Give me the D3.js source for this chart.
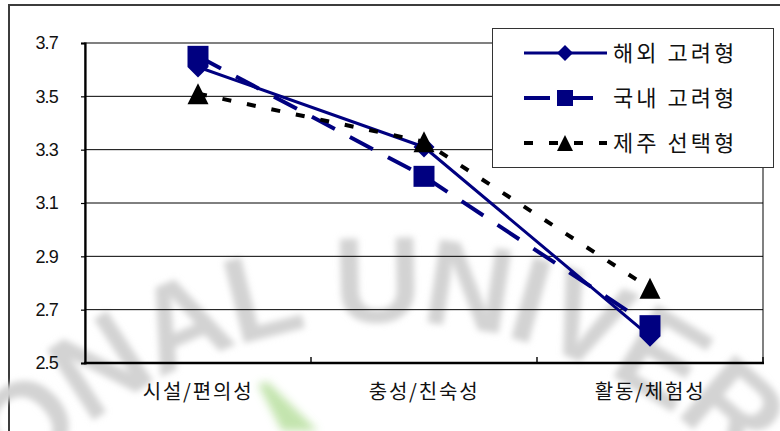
<!DOCTYPE html>
<html>
<head>
<meta charset="utf-8">
<script src="https://cdn.jsdelivr.net/npm/d3@7"></script>
<style>
  html, body { margin: 0; padding: 0; background: #fff; }
  svg { display: block; }
</style>
</head>
<body>
<svg id="chart" width="780" height="431"></svg>
<script>
// Categories on the x axis
const categories = ["시설/편의성", "충성/친숙성", "활동/체험성"];
// Mean scores per group
const overseasValues = [3.61, 3.31, 2.60];   // 해외 고려형
const domesticValues = [3.65, 3.20, 2.64];   // 국내 고려형
const jejuValues     = [3.51, 3.33, 2.78];   // 제주 선택형
const seriesNames = ["해외 고려형", "국내 고려형", "제주 선택형"];
// Y axis ticks
const yTicks = [2.5, 2.7, 2.9, 3.1, 3.3, 3.5, 3.7];

const NAVY = "#000080";
const KFONT = "'Noto Sans CJK KR', 'Noto Sans', sans-serif";

const svg = d3.select("#chart");
const defs = svg.append("defs");
defs.append("filter").attr("id", "soft").attr("x", "-20%").attr("y", "-20%")
  .attr("width", "140%").attr("height", "140%")
  .append("feGaussianBlur").attr("stdDeviation", 3);
defs.append("filter").attr("id", "softer").attr("x", "-50%").attr("y", "-50%")
  .attr("width", "200%").attr("height", "200%")
  .append("feGaussianBlur").attr("stdDeviation", 4);

const plot = { left: 85, right: 763, top: 43, bottom: 363 };

const x = d3.scaleBand().domain(categories).range([plot.left, plot.right]);
const y = d3.scaleLinear().domain([2.5, 3.7]).range([plot.bottom, plot.top]);
const cx = c => x(c) + x.bandwidth() / 2;

// Outer chart frame
svg.append("rect")
  .attr("x", 9).attr("y", 5).attr("width", 820).attr("height", 520)
  .attr("fill", "#fff").attr("stroke", "#3c3c3c").attr("stroke-width", 2);

// Faint seal lettering in the background
const seal = svg.append("g").attr("filter", "url(#soft)");
const sc = { x: 388, y: 807, r: 485 };
defs.append("path").attr("id", "sealArc")
  .attr("d", `M${sc.x - sc.r},${sc.y} A${sc.r},${sc.r} 0 0 1 ${sc.x + sc.r},${sc.y}`);
seal.append("text")
  .attr("font-family", "'Liberation Sans', Arial, sans-serif")
  .attr("font-size", 122)
  .attr("font-weight", "bold")
  .attr("letter-spacing", -3)
  .attr("fill", "#d3d3d3")
  .append("textPath")
  .attr("href", "#sealArc")
  .attr("startOffset", 82)
  .text("NATIONAL UNIVERSITY");
svg.append("path")
  .attr("d", "M258,384 L268,382 L318,431 L282,431 Z")
  .attr("fill", "#b9e0a0").attr("opacity", 0.85)
  .attr("filter", "url(#softer)");

// Plot area border (top and right in grey)
svg.append("rect")
  .attr("x", plot.left).attr("y", plot.top)
  .attr("width", plot.right - plot.left).attr("height", plot.bottom - plot.top)
  .attr("fill", "none").attr("stroke", "#808080").attr("stroke-width", 2);

// Horizontal gridlines
svg.append("g").selectAll("line")
  .data(yTicks.filter(t => t > 2.5 && t < 3.7))
  .join("line")
  .attr("x1", plot.left).attr("x2", plot.right)
  .attr("y1", d => y(d)).attr("y2", d => y(d))
  .attr("stroke", "#000").attr("stroke-width", 1);

// Y axis
const yAxis = svg.append("g")
  .attr("transform", `translate(${plot.left},0)`)
  .call(d3.axisLeft(y).tickValues(yTicks).tickFormat(d3.format(".1f"))
    .tickSize(4).tickPadding(23));
yAxis.select(".domain").attr("stroke", "#000").attr("stroke-width", 2.2);
yAxis.selectAll(".tick line").attr("stroke", "#000").attr("stroke-width", 1.2);
yAxis.selectAll(".tick text")
  .attr("font-family", "'Liberation Sans', Arial, sans-serif")
  .attr("font-size", 18).attr("letter-spacing", -0.8).attr("fill", "#111");

// X axis (labels centred in each band, ticks on band boundaries)
const xAxis = svg.append("g")
  .attr("transform", `translate(0,${plot.bottom})`)
  .call(d3.axisBottom(x).tickSize(0).tickPadding(22));
xAxis.select(".domain").remove();
xAxis.selectAll(".tick text")
  .attr("font-family", KFONT).attr("font-size", 20)
  .attr("letter-spacing", 1.8).attr("fill", "#111");
svg.append("line")
  .attr("x1", plot.left - 1).attr("x2", plot.right + 1)
  .attr("y1", plot.bottom).attr("y2", plot.bottom)
  .attr("stroke", "#000").attr("stroke-width", 2.4);
const boundaries = categories.slice(1).map(c => x(c)).concat([plot.right]);
svg.append("g").selectAll("line").data(boundaries).join("line")
  .attr("x1", d => d).attr("x2", d => d)
  .attr("y1", plot.bottom - 6).attr("y2", plot.bottom)
  .attr("stroke", "#000").attr("stroke-width", 1.4);

// Marker shapes
function markerPath(type, s) {
  const h = s / 2;
  if (type === "diamond") return `M0,${-h} L${h},0 L0,${h} L${-h},0 Z`;
  if (type === "square") return `M${-h},${-h} H${h} V${h} H${-h} Z`;
  return `M0,${-h} L${h},${h} L${-h},${h} Z`;
}

const series = [
  { name: seriesNames[0], values: overseasValues, color: NAVY, width: 3, dash: null, marker: "diamond", fill: NAVY },
  { name: seriesNames[1], values: domesticValues, color: NAVY, width: 4, dash: "26,17", marker: "square", fill: NAVY },
  { name: seriesNames[2], values: jejuValues, color: "#000", width: 4, dash: "9,16", marker: "triangle", fill: "#000" }
];

const line = d3.line().x((d, i) => cx(categories[i])).y(d => y(d));

const lines = svg.append("g");
series.forEach(s => {
  lines.append("path")
    .attr("d", line(s.values))
    .attr("fill", "none")
    .attr("stroke", s.color)
    .attr("stroke-width", s.width)
    .attr("stroke-dasharray", s.dash)
    .attr("stroke-linejoin", "round");
});

const marks = svg.append("g");
series.forEach(s => {
  marks.selectAll(null).data(s.values).join("path")
    .attr("transform", (d, i) => `translate(${cx(categories[i])},${y(d)})`)
    .attr("d", markerPath(s.marker, 21))
    .attr("fill", s.fill);
});

// Legend
const lg = svg.append("g");
lg.append("rect")
  .attr("x", 492.5).attr("y", 28.5).attr("width", 281).attr("height", 139)
  .attr("fill", "#fff").attr("stroke", "#333").attr("stroke-width", 1);
series.forEach((s, i) => {
  const ly = 53 + i * 45;
  lg.append("line")
    .attr("x1", 524).attr("x2", 607).attr("y1", ly).attr("y2", ly)
    .attr("stroke", s.color).attr("stroke-width", s.width === 4 ? 4 : 3)
    .attr("stroke-dasharray", s.dash);
  lg.append("path")
    .attr("transform", `translate(565,${ly})`)
    .attr("d", markerPath(s.marker, 16))
    .attr("fill", s.fill);
  lg.append("text")
    .attr("x", 613).attr("y", ly).attr("dy", "0.37em")
    .attr("font-family", KFONT).attr("font-size", 22)
    .attr("letter-spacing", 3).attr("fill", "#111")
    .text(s.name);
});
</script>
</body>
</html>
